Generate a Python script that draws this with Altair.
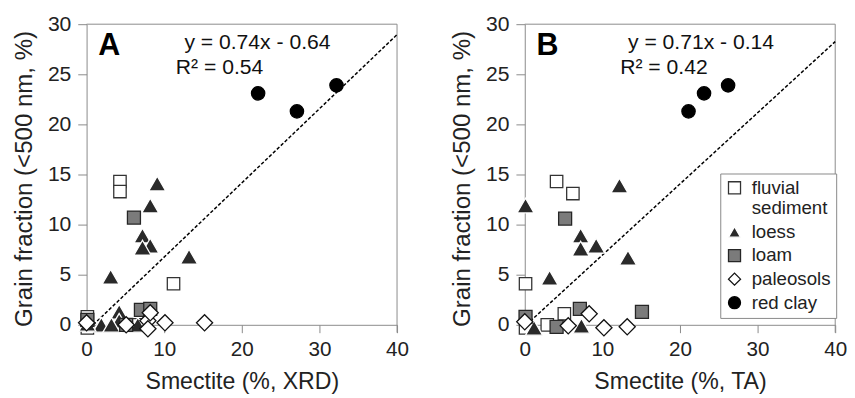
import altair as alt
import pandas as pd

FONT = "Liberation Sans"
cats = ["fluvial sediment", "loess", "loam", "paleosols", "red clay"]

# ---------- Panel A: Smectite (%, XRD) ----------
a_fluvial_x = [4.3, 4.3, 11.2, 0.1, 0.1, 6.5]
a_fluvial_y = [14.3, 13.3, 4.1, 0.8, -0.3, 0.0]
a_loess_x = [9.1, 8.2, 7.2, 8.2, 7.2, 13.2, 3.1, 4.2, 4.2, 1.9, 3.2, 5.7, 6.6, 0.1]
a_loess_y = [14.1, 11.9, 8.9, 7.9, 7.7, 6.8, 4.8, 1.3, 0.4, 0.0, 0.0, 0.0, 0.0, 0.1]
a_loam_x = [6.1, 7.0, 8.2, 5.1, 0.1]
a_loam_y = [10.7, 1.5, 1.6, 0.0, 0.5]
a_paleo_x = [0.0, 5.1, 7.9, 7.9, 8.2, 10.1, 15.2]
a_paleo_y = [0.2, 0.0, 0.4, -0.4, 1.2, 0.2, 0.2]
a_red_x = [22.1, 27.1, 32.2]
a_red_y = [23.1, 21.3, 23.9]
a_trend_x = [0.86, 40]
a_trend_y = [0.0, 28.96]

# ---------- Panel B: Smectite (%, TA) ----------
b_fluvial_x = [4.1, 6.2, 0.1, 5.1, 2.9, 0.1]
b_fluvial_y = [14.3, 13.1, 4.1, 1.1, 0.0, -0.3]
b_loess_x = [0.1, 12.2, 7.2, 7.2, 9.2, 13.3, 3.2, 1.2, 7.3]
b_loess_y = [11.9, 13.9, 8.9, 7.6, 7.9, 6.7, 4.7, -0.3, -0.1]
b_loam_x = [5.2, 7.1, 15.1, 4.1, 0.1]
b_loam_y = [10.6, 1.6, 1.3, -0.2, 0.8]
b_paleo_x = [0.0, 5.6, 8.3, 10.2, 13.2]
b_paleo_y = [0.3, -0.1, 1.1, -0.3, -0.2]
b_red_x = [21.1, 23.1, 26.2]
b_red_y = [21.3, 23.1, 23.9]
b_trend_x = [0.2, 40]
b_trend_y = [0.0, 28.26]

y_ticks = [0, 5, 10, 15, 20, 25, 30]
x_ticks = [0, 10, 20, 30, 40]

shape_range = ["square", "triangle-up", "square", "diamond", "circle"]
fill_range = ["white", "#2a2a2a", "#7b7b7b", "white", "black"]
stroke_range = ["#333333", "white", "#262626", "#111111", "black"]
SIZE_EXPR = ("datum.cat == 'loess' ? 300 : datum.cat == 'paleosols' ? 270 : "
             "datum.cat == 'loam' ? 175 : datum.cat == 'red clay' ? 185 : 160")


def points_df(groups):
    rows = []
    for cat, xs, ys in groups:
        for x, y in zip(xs, ys):
            rows.append({"cat": cat, "x": x, "y": y})
    return pd.DataFrame(rows)


def panel(groups, trend_x, trend_y, letter, eq, r2, eq_pos, r2_pos, xtitle, show_legend):
    df = points_df(groups)
    xs = alt.Scale(domain=[0, 40], nice=False)
    ys = alt.Scale(domain=[-0.784, 30], nice=False)
    x_axis = alt.Axis(values=x_ticks, title=xtitle, offset=-8, tickSize=8, labelFlush=False,
                      labelFontSize=21, titleFontSize=23.5,
                      labelPadding=6, titlePadding=11, grid=False)
    y_axis = alt.Axis(values=y_ticks, title="Grain fraction (<500 nm, %)", tickSize=9,
                      labelFontSize=21.5, titleFontSize=24.5,
                      labelPadding=7, titlePadding=11, grid=False)

    if show_legend:
        lg = alt.Legend(title=None, orient="none", legendX=199, legendY=152,
                        strokeColor="#888888", fillColor="white", padding=5,
                        labelFont=FONT, labelFontSize=19, labelColor="#222222",
                        labelOffset=8, rowPadding=4, symbolStrokeWidth=1.3, symbolSize=150,
                        labelExpr="datum.label == 'fluvial sediment' ? ['fluvial', 'sediment'] : datum.label")
    else:
        lg = None

    pts = alt.Chart(df).transform_window(idx="row_number()").transform_calculate(
        sz=SIZE_EXPR
    ).mark_point(filled=True, opacity=1, strokeWidth=1.3).encode(
        x=alt.X("x:Q", scale=xs, axis=x_axis),
        y=alt.Y("y:Q", scale=ys, axis=y_axis),
        shape=alt.Shape("cat:N", scale=alt.Scale(domain=cats, range=shape_range), legend=lg),
        fill=alt.Fill("cat:N", scale=alt.Scale(domain=cats, range=fill_range), legend=lg),
        stroke=alt.Stroke("cat:N", scale=alt.Scale(domain=cats, range=stroke_range), legend=lg),
        size=alt.Size("sz:Q", scale=None),
        order=alt.Order("idx:Q"),
    )

    tdf = pd.DataFrame({"x": trend_x, "y": trend_y})
    trend = alt.Chart(tdf).mark_line(color="black", strokeDash=[3.5, 2], strokeWidth=1.5).encode(
        x=alt.X("x:Q", scale=xs), y=alt.Y("y:Q", scale=ys))

    top = alt.Chart().mark_rule(color="#8a8a8a", strokeWidth=1).encode(y=alt.datum(30, scale=ys))
    right = alt.Chart().mark_rule(color="#8a8a8a", strokeWidth=1).encode(x=alt.datum(40, scale=xs))

    tx = pd.DataFrame({"x": [1.5, eq_pos[0], r2_pos[0]], "y": [27.8, eq_pos[1], r2_pos[1]],
                       "t": [letter, eq, r2], "big": [1, 0, 0]})
    letter_mark = alt.Chart(tx).transform_filter("datum.big == 1").mark_text(
        align="left", baseline="middle", font=FONT, fontSize=31, fontWeight="bold", color="black"
    ).encode(x=alt.X("x:Q", scale=xs), y=alt.Y("y:Q", scale=ys), text="t:N")
    eq_mark = alt.Chart(tx).transform_filter("datum.big == 0").mark_text(
        align="left", baseline="middle", font=FONT, fontSize=21.5, color="#111111"
    ).encode(x=alt.X("x:Q", scale=xs), y=alt.Y("y:Q", scale=ys), text="t:N")

    return alt.layer(top, right, trend, pts, letter_mark, eq_mark).properties(width=316, height=314)


A = panel([("fluvial sediment", a_fluvial_x, a_fluvial_y), ("loess", a_loess_x, a_loess_y),
           ("loam", a_loam_x, a_loam_y), ("paleosols", a_paleo_x, a_paleo_y),
           ("red clay", a_red_x, a_red_y)],
          a_trend_x, a_trend_y, "A", "y = 0.74x - 0.64", "R² = 0.54",
          (12.6, 28.1), (11.5, 25.6), "Smectite (%, XRD)", False)
B = panel([("fluvial sediment", b_fluvial_x, b_fluvial_y), ("loess", b_loess_x, b_loess_y),
           ("loam", b_loam_x, b_loam_y), ("paleosols", b_paleo_x, b_paleo_y),
           ("red clay", b_red_x, b_red_y)],
          b_trend_x, b_trend_y, "B", "y = 0.71x - 0.14", "R² = 0.42",
          (13.3, 28.1), (12.3, 25.6), "Smectite (%, TA)", True)

chart = alt.hconcat(A, B, spacing=42).resolve_scale(
    shape="independent", fill="independent", stroke="independent"
).resolve_legend(
    shape="independent", fill="independent", stroke="independent"
).properties(
    padding={"left": 4, "top": 2, "right": 0, "bottom": 0}
).configure_view(stroke=None).configure_axis(
    labelFont=FONT, titleFont=FONT,
    labelColor="#222222", titleColor="#222222", titleFontWeight="normal",
    domainColor="#8a8a8a", tickColor="#8a8a8a", domainWidth=1, tickWidth=1
)

chart.save("out.html", embed_options={"renderer": "svg", "actions": False})
